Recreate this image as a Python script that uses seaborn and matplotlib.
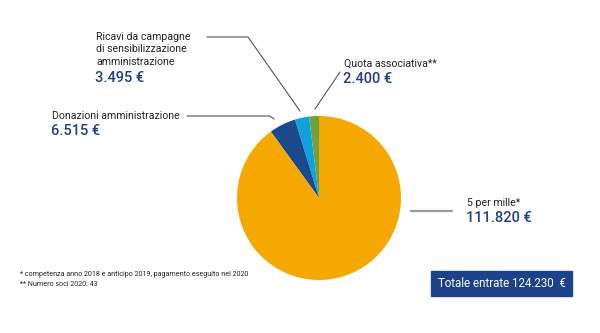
import matplotlib
matplotlib.use("Agg")
import matplotlib.pyplot as plt
import seaborn as sns

sns.set_theme(style="white")
plt.rcParams['font.family'] = ['Roboto', 'DejaVu Sans']

# Data
labels = ["Quota associativa**", "Ricavi da campagne\ndi sensibilizzazione\namministrazione",
          "Donazioni amministrazione", "5 per mille*"]
values = [2400, 3495, 6515, 111820]
colors = ["#6EA339", "#0FA0DF", "#1B4A8C", "#F5A800"]
value_labels = ["2.400 €", "3.495 €", "6.515 €", "111.820 €"]
footnotes = ["* competenza anno 2018 e anticipo 2019, pagamento eseguito nel 2020",
             "** Numero soci 2020: 43"]

W, H = 600, 333
fig = plt.figure(figsize=(W / 100, H / 100), dpi=100)
fig.patch.set_facecolor("white")

# Overlay axes in pixel coordinates for annotations
ov = fig.add_axes([0, 0, 1, 1])
ov.set_xlim(0, W)
ov.set_ylim(H, 0)
ov.axis("off")

# Pie axes
cx, cy, r = 319, 198, 82
pax = fig.add_axes([(cx - r) / W, (H - cy - r) / H, 2 * r / W, 2 * r / H])
pax.pie(values, colors=colors, startangle=90, counterclock=True,
        wedgeprops=dict(linewidth=0))
pax.set_xlim(-1, 1)
pax.set_ylim(-1, 1)
pax.axis("off")

navy = "#1F3F86"
txt = "#222222"
lab_fs = 7.6
val_fs = 10.5
vw = "medium"

# Leader lines
lc = "#555555"
ov.plot([207, 248, 300], [37, 37, 111], color=lc, lw=0.8)
ov.plot([187, 270, 274], [116, 116, 119], color=lc, lw=0.8)
ov.plot([340, 315], [72, 109], color=lc, lw=0.8)
ov.plot([411, 452], [210.5, 210.5], color="#999999", lw=1.6)

# Labels
ov.text(96, 37, "Ricavi da campagne", fontsize=lab_fs, color=txt, va="center")
ov.text(96, 49.5, "di sensibilizzazione", fontsize=lab_fs, color=txt, va="center")
ov.text(96, 62, "amministrazione", fontsize=lab_fs, color=txt, va="center")
ov.text(95, 78, value_labels[1], fontsize=val_fs, color=navy, va="center", fontweight=vw)

ov.text(52, 116, labels[2], fontsize=lab_fs, color=txt, va="center")
ov.text(51, 131, value_labels[2], fontsize=val_fs, color=navy, va="center", fontweight=vw)

ov.text(344, 64, labels[0], fontsize=lab_fs, color=txt, va="center")
ov.text(343, 79, value_labels[0], fontsize=val_fs, color=navy, va="center", fontweight=vw)

ov.text(467, 203, labels[3], fontsize=lab_fs, color=txt, va="center")
ov.text(466, 218.5, value_labels[3], fontsize=val_fs, color=navy, va="center", fontweight=vw)

# Footnotes
ov.text(20, 274, footnotes[0], fontsize=5.1, color=txt, va="center")
ov.text(20, 284, footnotes[1], fontsize=5.1, color=txt, va="center")

# Total box
total = sum(values)
total_str = "Totale entrate " + f"{total:,}".replace(",", ".") + "  €"
ov.add_patch(plt.Rectangle((431, 271), 141, 25, color="#1B428A", zorder=3))
ov.text(501.5, 283.5, total_str, fontsize=8.3, color="white", ha="center", va="center", zorder=4)

fig.savefig("out.png", dpi=100, facecolor="white")
